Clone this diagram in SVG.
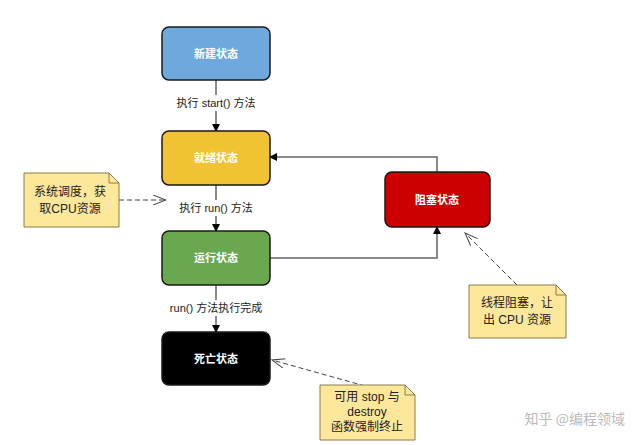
<svg xmlns="http://www.w3.org/2000/svg" width="637" height="445" viewBox="0 0 637 445">
<style>
.b{stroke:#1a1a1a;stroke-width:1.5}
.bt{font:bold 11px "Noto Sans CJK SC",sans-serif;fill:#fff;text-anchor:middle}
.l{font:11px "Liberation Sans","Noto Sans CJK SC",sans-serif;fill:#222;text-anchor:middle}
.c{stroke:#666;stroke-width:1.5;fill:none}
.d{stroke:#444;stroke-width:1;fill:none;stroke-dasharray:5,3}
.n{fill:#fde79b;stroke:#8a7a4a;stroke-width:1}
.nt{font:12px "Liberation Sans","Noto Sans CJK SC",sans-serif;fill:#222;text-anchor:middle}
</style>
<defs>
<marker id="a" markerWidth="8" markerHeight="8" refX="7" refY="4" orient="auto" markerUnits="userSpaceOnUse"><path d="M0,0L8,4L0,8z" fill="#000"/></marker>
<marker id="o" markerWidth="14" markerHeight="10" refX="13" refY="5" orient="auto" markerUnits="userSpaceOnUse"><path d="M0,0L13,5L0,10" fill="none" stroke="#444"/></marker>
</defs>
<rect width="637" height="445" fill="#fff"/>
<g id="connectors">
<line class="c" x1="216" y1="80" x2="216" y2="131" marker-end="url(#a)"/>
<line class="c" x1="216" y1="185" x2="216" y2="231" marker-end="url(#a)"/>
<line class="c" x1="216" y1="285" x2="216" y2="332" marker-end="url(#a)"/>
<path class="c" d="M270,258H437V227" marker-end="url(#a)"/>
<path class="c" d="M437,172V157H270" marker-end="url(#a)"/>
<rect x="162" y="95" width="108" height="16" fill="#fff"/>
<text class="l" x="216" y="107">执行 start() 方法</text>
<rect x="168" y="200" width="96" height="16" fill="#fff"/>
<text class="l" x="216" y="212">执行 run() 方法</text>
<rect x="160" y="300" width="112" height="16" fill="#fff"/>
<text class="l" x="216" y="312">run() 方法执行完成</text>
<line class="d" x1="119" y1="200" x2="166" y2="200" marker-end="url(#o)"/>
<line class="d" x1="517" y1="285" x2="465" y2="233" marker-end="url(#o)"/>
<line class="d" x1="365" y1="386" x2="272" y2="360" marker-end="url(#o)"/>
</g>
<g id="new"><rect class="b" x="162" y="27" width="108" height="53" rx="7" fill="#6fa8dc"/><text class="bt" x="216" y="58">新建状态</text></g>
<g id="ready"><rect class="b" x="162" y="131" width="108" height="54" rx="7" fill="#f1c232"/><text class="bt" x="216" y="162">就绪状态</text></g>
<g id="run"><rect class="b" x="162" y="231" width="108" height="54" rx="7" fill="#6aa84f"/><text class="bt" x="216" y="262">运行状态</text></g>
<g id="dead"><rect class="b" x="162" y="332" width="108" height="53" rx="7" fill="#000"/><text class="bt" x="216" y="363">死亡状态</text></g>
<g id="blocked"><rect class="b" x="385" y="172" width="105" height="55" rx="7" fill="#cc0000"/><text class="bt" x="437" y="204">阻塞状态</text></g>
<g id="note1"><path class="n" d="M24,173H109L119,183V227H24z"/><path d="M109,173V183H119" fill="none" stroke="#8a7a4a"/><text class="nt" x="70" y="196">系统调度，获</text><text class="nt" x="70" y="213">取CPU资源</text></g>
<g id="note2"><path class="n" d="M469,285H556L566,295V338H469z"/><path d="M556,285V295H566" fill="none" stroke="#8a7a4a"/><text class="nt" x="517" y="307">线程阻塞，让</text><text class="nt" x="517" y="324">出 CPU 资源</text></g>
<g id="note3"><path class="n" d="M320,385H405L415,395V440H320z"/><path d="M405,385V395H415" fill="none" stroke="#8a7a4a"/><text class="nt" x="367" y="401">可用 stop 与</text><text class="nt" x="367" y="416">destroy</text><text class="nt" x="367" y="431">函数强制终止</text></g>
<text x="625" y="424" text-anchor="end" font-family="Noto Sans CJK SC,sans-serif" font-size="14" fill="#bbb">知乎 @编程领域</text>
</svg>
